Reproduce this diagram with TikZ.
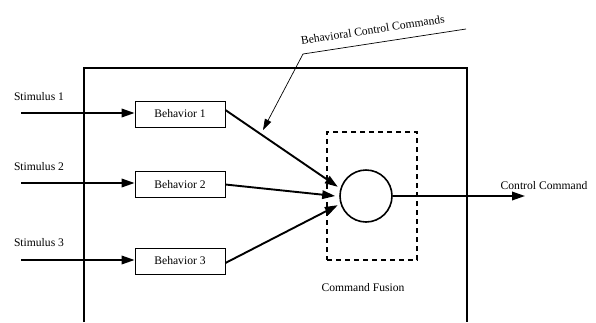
\documentclass[tikz,border=0pt]{standalone}
\usepackage{fontspec}
\setmainfont{Liberation Serif}
\usetikzlibrary{arrows.meta,positioning}

\tikzset{
  behavior/.style = {draw, line width=0.8pt, minimum width=90pt, minimum height=26pt, inner sep=0pt},
  fusion/.style   = {draw, circle, line width=1.6pt, minimum size=52pt, inner sep=0pt},
  flow/.style     = {line width=1.9pt, -{Triangle[length=13pt,width=8.5pt]}},
  txt/.style      = {font=\fontsize{11.6}{13}\selectfont, inner sep=1pt},
}

\begin{document}
\begin{tikzpicture}[x=1pt, y=-1pt]
  \useasboundingbox (0,0) rectangle (596,322);

  % controller frame
  \draw[line width=1.9pt] (84,322) |- (467,68) -- (467,322);

  % behaviors
  \node[behavior] (b1) at (180,114) {\fontsize{11.6}{13}\selectfont Behavior 1};
  \node[behavior] (b2) at (180,184.5) {\fontsize{11.6}{13}\selectfont Behavior 2};
  \node[behavior] (b3) at (180,261) {\fontsize{11.6}{13}\selectfont Behavior 3};

  \coordinate (s1) at (21,113);
  \coordinate (s2) at (21,183);
  \coordinate (s3) at (21,260);

  \node[txt] (l1) at (39,97)  {Stimulus 1};
  \node[txt] (l2) at (39,167) {Stimulus 2};
  \node[txt] (l3) at (39,243) {Stimulus 3};

  \draw[flow] (s1) -- (b1.west |- s1);
  \draw[flow] (s2) -- (b2.west |- s2);
  \draw[flow] (s3) -- (b3.west |- s3);

  % command fusion
  \node[draw, dashed, dash pattern=on 5pt off 4pt, line width=1.6pt,
        minimum width=90pt, minimum height=128pt] (fbox) at (372,196) {};
  \node[fusion] (fus) at (366,196) {};
  \node[txt] (fl) at (363,288) {Command Fusion};

  \draw[flow] ([yshift=4pt]b1.east) -- ([shift={(-3pt,0)}]fus.160);
  \draw[flow] (b2.east) -- ([shift={(-4pt,0)}]fus.180);
  \draw[flow] ([yshift=-2pt]b3.east) -- ([shift={(-3pt,0)}]fus.200);

  % output
  \coordinate (out) at (525,196);
  \draw[flow] (fus.east) -- (out);
  \node[txt] (ol) at (544,186) {Control Command};

  % callout
  \coordinate (cc) at (303,54);
  \coordinate (ce) at (466,29);
  \coordinate (ct) at (263,130);
  \draw[line width=0.7pt] (cc) -- node[txt, sloped, above=8pt, pos=0.44] {Behavioral Control Commands} (ce);
  \draw[line width=0.7pt, -{Triangle[length=11pt,width=7pt]}] (cc) -- (ct);
\end{tikzpicture}
\end{document}
